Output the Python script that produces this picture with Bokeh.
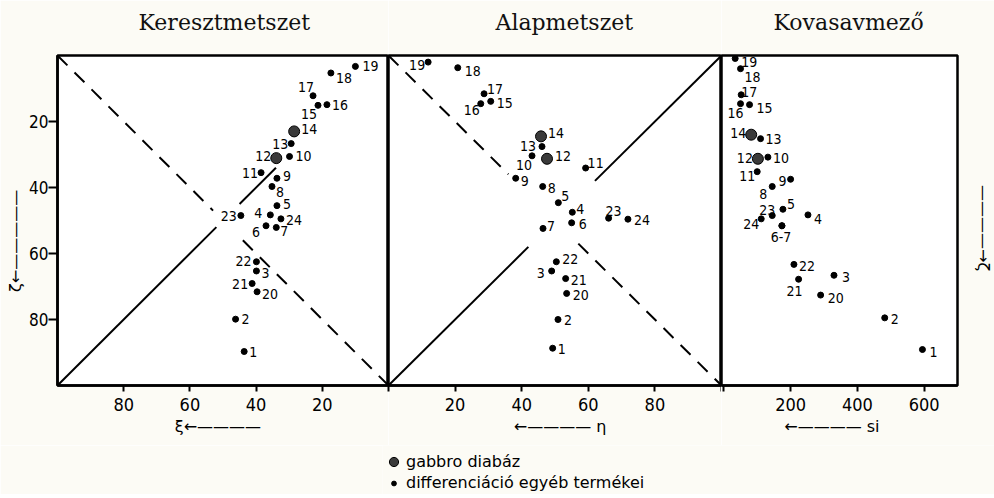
from bokeh.plotting import figure
from bokeh.layouts import row, column
from bokeh.models import (Range1d, FixedTicker, ColumnDataSource, Legend, LegendItem,
                          CDSView, BooleanFilter, Title)
from bokeh.core.properties import value
from bokeh.embed import file_html
from bokeh.resources import INLINE

# ---------------- data ----------------
sample_ids = ["1", "2", "3", "4", "5", "6", "7", "8", "9", "10", "11", "12",
              "13", "14", "15", "16", "17", "18", "19", "20", "21", "22", "23", "24"]
gabbro_ids = ["12", "14"]

# Keresztmetszet: xi vs zeta
xi = [43.6, 46.2, 39.9, 35.7, 33.7, 37.0, 33.9, 35.2, 33.7, 29.9, 38.5, 33.9,
      29.4, 28.5, 21.3, 18.6, 22.8, 17.4, 10.0, 39.7, 41.2, 39.9, 44.6, 32.5]
zeta_xi = [89.7, 79.9, 65.3, 48.3, 45.5, 51.6, 52.1, 39.7, 37.2, 30.6, 35.5, 31.1,
           26.7, 23.0, 15.1, 14.9, 12.2, 5.3, 3.3, 71.6, 69.1, 62.5, 48.5, 49.5]

# Alapmetszet: eta vs zeta
eta = [49.3, 50.9, 49.0, 55.2, 51.0, 55.0, 46.4, 46.3, 38.2, 43.1, 59.2, 47.6,
       46.1, 45.8, 30.7, 27.7, 28.7, 20.8, 11.9, 53.5, 53.2, 50.4, 66.1, 71.9]
zeta_eta = [88.7, 80.0, 65.3, 47.5, 44.6, 50.7, 52.4, 39.7, 37.2, 30.4, 34.1, 31.3,
            27.6, 24.5, 13.9, 14.6, 11.6, 3.7, 2.0, 72.1, 67.6, 62.5, 49.3, 49.6]

# Kovasavmezo: si vs zeta
si = [595, 482, 330, 252, 177, 174, 174, 145, 200, 132, 100, 102,
      110, 82, 77, 50, 52, 50, 34, 290, 224, 210, 145, 112]
zeta_si = [89.1, 79.5, 66.6, 48.3, 46.6, 51.6, 51.6, 39.7, 37.5, 30.8, 35.2, 31.3,
           25.2, 24.0, 14.9, 14.6, 11.9, 4.0, 0.9, 72.6, 67.8, 63.3, 48.5, 49.5]
si_labels = ["1", "2", "3", "4", "5", "6-7", "", "8", "9", "10", "11", "12",
             "13", "14", "15", "16", "17", "18", "19", "20", "21", "22", "23", "24"]

xi_ticks = [0, 20, 40, 60, 80]
eta_ticks = [0, 20, 40, 60, 80, 100]
si_ticks = [0, 200, 400, 600]
zeta_ticks = [20, 40, 60, 80]

# guide diagonals (data space): (x0, y0, x1, y1)
xi_solid = [(100, 100, 52, 52), (45, 45, 34, 34)]
xi_dashed = [(100, 0, 53, 47), (44, 56, 0, 100)]
eta_solid = [(0, 100, 42, 58), (62, 38, 100, 0)]
eta_dashed = [(0, 0, 36, 36), (57, 57, 100, 100)]

legend_labels = ["gabbro diabáz", "differenciáció egyéb termékei"]

# ---------------- styles ----------------
off_xi = [(9, 0), (10, 0), (9, 2), (-12, -2), (10, -2), (-10, 6), (8, 4), (8, 5), (10, -2),
          (14, 0), (-11, 0), (-13, -2), (-11, 0), (15, -2), (-9, 9), (13, 0), (-7, -9),
          (13, 5), (15, 0), (13, 2), (-12, 0), (-13, -1), (-12, 0), (13, 1)]
off_eta = [(9, 1), (10, 0), (-11, 2), (8, -3), (7, -7), (11, 1), (8, -2), (9, 1), (9, 3),
           (-8, 9), (10, -5), (16, -3), (-14, -1), (15, -3), (14, 2), (-9, 6), (11, -5),
           (15, 3), (-11, 3), (14, 2), (13, 1), (14, -3), (5, -7), (14, 1)]
off_si = [(11, 2), (10, 1), (12, 2), (10, 4), (8, -5), (-1, 11), (0, 0), (-9, 7), (-8, 2),
          (13, 1), (-10, 4), (-13, -1), (13, 0), (-13, -2), (15, 3), (-5, 9), (8, -3),
          (12, 8), (14, 4), (15, 3), (-4, 12), (13, 2), (-5, -6), (-10, 5)]

NARROW = "Liberation Sans Narrow, DejaVu Sans Condensed, sans-serif"
SERIF = "DejaVu Serif"
PAPER = "#fcfbf5"
NB = "\u00a0"
SMALL = dict(size=6, color="black")
BIG = dict(size=11, fill_color="#3a3a3a", line_color="black", line_width=1)


def style_axis_label(ax, text, standoff):
    ax.axis_label = text
    ax.axis_label_text_font = "DejaVu Sans"
    ax.axis_label_text_font_size = "16px"
    ax.axis_label_text_font_style = "normal"
    ax.axis_label_text_color = "black"
    ax.axis_label_standoff = standoff


def panel(xv, zv, labels, offs, x_range, xticks, title, title_off, fw, bl, br, yloc, xlabel):
    p = figure(frame_width=fw, frame_height=330, x_range=x_range, y_range=Range1d(100, 0),
               min_border_left=bl, min_border_right=br, min_border_top=55, min_border_bottom=60,
               toolbar_location=None, output_backend="svg", y_axis_location=yloc,
               background_fill_color="white", border_fill_color=PAPER, title=title)
    p.grid.visible = False
    p.outline_line_color = "black"
    p.outline_line_width = 2.5
    # spacer between the frame and the title (keeps the title high above the frame)
    p.add_layout(Title(text=" ", text_font_size="2px", standoff=17), "above")
    p.title.align = "left"
    p.title.vertical_align = "bottom"
    p.title.offset = title_off
    p.title.standoff = 0
    p.title.text_font = SERIF
    p.title.text_font_size = "22px"
    p.title.text_font_style = "normal"
    p.title.text_color = "#111111"

    ax = p.xaxis[0]
    ax.ticker = FixedTicker(ticks=xticks)
    ax.major_label_overrides = {0: "", 100: ""}
    ax.major_tick_out = 6
    ax.major_tick_in = 0
    ax.minor_tick_out = 0
    ax.minor_tick_in = 0
    ax.major_tick_line_width = 2
    ax.axis_line_width = 2.5
    ax.major_label_standoff = 6
    ax.major_label_text_font = NARROW
    ax.major_label_text_font_size = "18px"
    ax.major_label_text_color = "black"
    style_axis_label(ax, xlabel, 3)

    src = ColumnDataSource(dict(x=xv, y=zv, lab=labels,
                                dx=[o[0] for o in offs], dy=[o[1] for o in offs]))
    is_big = [s in gabbro_ids for s in sample_ids]
    small_v = CDSView(filter=BooleanFilter([not b for b in is_big]))
    big_v = CDSView(filter=BooleanFilter(is_big))
    p.scatter("x", "y", source=src, view=small_v, **SMALL)
    p.scatter("x", "y", source=src, view=big_v, **BIG)
    p.text("x", "y", text="lab", source=src, x_offset="dx", y_offset="dy",
           text_align="center", text_baseline="middle",
           text_font=value(NARROW), text_font_size="14px", text_color="black")
    return p, src, small_v, big_v


def diagonals(p, solid, dashed):
    for segs, dash in ((solid, "solid"), (dashed, "14 10")):
        p.segment(x0=[s[0] for s in segs], y0=[s[1] for s in segs],
                  x1=[s[2] for s in segs], y1=[s[3] for s in segs],
                  line_color="black", line_width=2, line_dash=dash)


p1, _, _, _ = panel(xi, zeta_xi, sample_ids, off_xi, Range1d(100, 0), xi_ticks,
                    "Keresztmetszet", 81, 331, 57, 0, "left", "ξ←————" + NB * 2)
diagonals(p1, xi_solid, xi_dashed)
ya = p1.yaxis[0]
ya.ticker = FixedTicker(ticks=zeta_ticks)
ya.major_tick_out = 9
ya.major_tick_in = 0
ya.minor_tick_out = 0
ya.minor_tick_in = 0
ya.major_tick_line_width = 2
ya.axis_line_width = 2.5
ya.major_label_standoff = 0
ya.major_label_text_font = NARROW
ya.major_label_text_font_size = "17px"
ya.major_label_text_color = "black"
style_axis_label(ya, "ζ←—————" + NB * 8, 1)

p2, src2, small_v2, big_v2 = panel(eta, zeta_eta, sample_ids, off_eta, Range1d(0, 100),
                                   eta_ticks, "Alapmetszet", 107, 333, 0, 0, None,
                                   NB * 2 + "←———— η")
diagonals(p2, eta_solid, eta_dashed)

p3, _, _, _ = panel(si, zeta_si, si_labels, off_si, Range1d(-7, 700), si_ticks,
                    "Kovasavmező", 52, 236, 0, 36, "right", "←———— si" + NB * 3)
yr = p3.yaxis[0]
yr.ticker = FixedTicker(ticks=[])
yr.axis_line_color = None
yr.major_tick_line_color = None
yr.minor_tick_line_color = None
yr.major_label_standoff = 0
style_axis_label(yr, NB * 3 + "————→ζ", 16)

# legend strip below the middle panel (glyphs share the middle panel's data,
# which lies outside this strip's ranges, so only the legend is visible)
leg = figure(frame_width=612, frame_height=49, x_range=Range1d(-2, -1), y_range=Range1d(-2, -1),
             min_border_left=382, min_border_right=0, min_border_top=0, min_border_bottom=0,
             toolbar_location=None, output_backend="svg", x_axis_location=None,
             y_axis_location=None, background_fill_color=PAPER, border_fill_color=PAPER)
leg.grid.visible = False
leg.outline_line_color = None
r_big = leg.scatter("x", "y", source=src2, view=big_v2, **BIG)
r_small = leg.scatter("x", "y", source=src2, view=small_v2, **SMALL)
common = dict(orientation="vertical", padding=0, margin=0, border_line_color=None,
              background_fill_alpha=0, label_standoff=1, label_text_font="DejaVu Sans",
              label_text_font_size="16px", label_text_color="black", glyph_width=23)
leg_big = Legend(items=[LegendItem(label=legend_labels[0], renderers=[r_big])],
                 location=(0, 21), glyph_height=23, label_height=23, **common)
leg_small = Legend(items=[LegendItem(label=legend_labels[1], renderers=[r_small])],
                   location=(0, 2), glyph_height=12, label_height=12, **common)
leg.add_layout(leg_big, "center")
leg.add_layout(leg_small, "center")

layout = column(row(p1, p2, p3), leg)
open("out.html", "w").write(file_html(layout, INLINE))
